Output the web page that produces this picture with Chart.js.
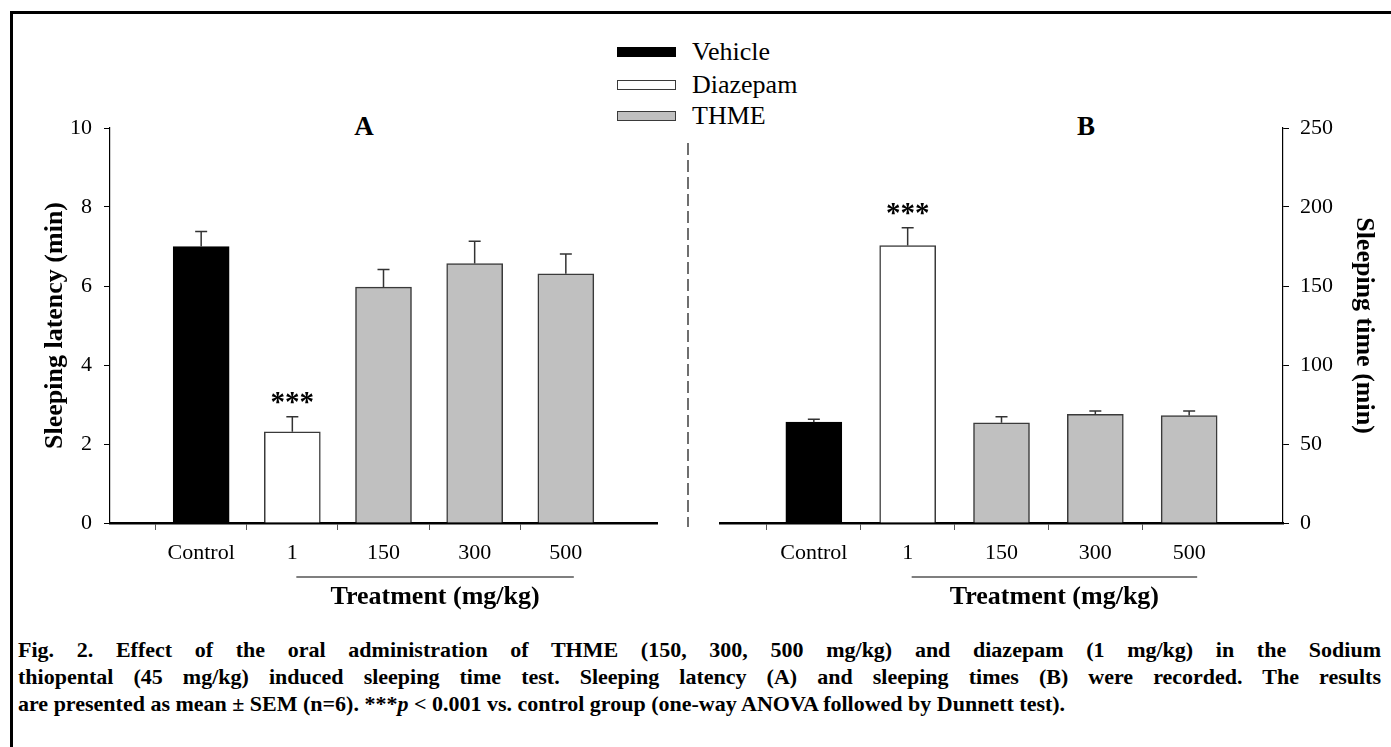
<!DOCTYPE html>
<html>
<head>
<meta charset="utf-8">
<script src="https://cdn.jsdelivr.net/npm/chart.js@4.4.1/dist/chart.umd.min.js"></script>
<style>
  body { margin: 0; background: #fff; }
  #page { position: relative; width: 1391px; height: 747px; overflow: hidden; background: #fff;
          font-family: "Liberation Serif", "Times New Roman", serif; color: #000; }
  #frame { position: absolute; left: 10px; top: 11px; width: 1500px; height: 800px;
           border-left: 3px solid #000; border-top: 3px solid #000; }
  canvas { position: absolute; }
  #chartA { left: 0; top: 90px; }
  #chartB { left: 700px; top: 90px; }
  .legend-row { position: absolute; left: 617px; height: 26px; display: flex; align-items: center; font-size: 26px; }
  .swatch { width: 57px; height: 8px; border: 1.5px solid #3a3a3a; margin-right: 16px; }
  .panel-tag { position: absolute; font-weight: bold; font-size: 27px; transform: translate(-50%, -50%); }
  #caption { position: absolute; left: 18px; width: 1363px; top: 636px; font-weight: bold; font-size: 22px; line-height: 27px; }
  #caption div { white-space: nowrap; }
  #caption .fill { text-align: justify; text-align-last: justify; }
  #divider { position: absolute; left: 686px; top: 143px; }
</style>
</head>
<body>
<div id="page">
  <div id="frame"></div>
  <div id="legend"></div>
  <div class="panel-tag" style="left:364px; top:126px;">A</div>
  <div class="panel-tag" style="left:1086px; top:126px;">B</div>
  <svg id="divider" width="4" height="385"><line x1="2" y1="0" x2="2" y2="384" stroke="#222" stroke-width="1.3" stroke-dasharray="12 5"/></svg>
  <canvas id="chartA" width="680" height="540"></canvas>
  <canvas id="chartB" width="691" height="540"></canvas>
  <div id="caption">
    <div class="fill">Fig. 2. Effect of the oral administration of THME (150, 300, 500 mg/kg) and diazepam (1 mg/kg) in the Sodium</div>
    <div class="fill">thiopental (45 mg/kg) induced sleeping time test. Sleeping latency (A) and sleeping times (B) were recorded. The results</div>
    <div>are presented as mean ± SEM (n=6). ***<i>p</i> &lt; 0.001 vs. control group (one-way ANOVA followed by Dunnett test).</div>
  </div>
</div>
<script>
// groups on the x axis
const categories = ['Control', '1', '150', '300', '500'];
const groupOf = ['Vehicle', 'Diazepam', 'THME', 'THME', 'THME'];
const seriesNames = ['Vehicle', 'Diazepam', 'THME'];
const seriesColors = ['#000000', '#ffffff', '#c0c0c0'];
const seriesBorders = ['#000000', '#3a3a3a', '#3a3a3a'];

// panel A: sleeping latency (min), mean and SEM
const latencyMean = [7.0, 2.31, 5.97, 6.57, 6.31];
const latencySem = [0.38, 0.38, 0.45, 0.56, 0.50];
const latencySig = ['', '***', '', '', ''];
const latencyTicks = [0, 2, 4, 6, 8, 10];

// panel B: sleeping time (min), mean and SEM
const sleepMean = [63.8, 175.6, 63.4, 68.7, 68.0];
const sleepSem = [1.9, 11.3, 3.8, 2.2, 2.9];
const sleepSig = ['', '***', '', '', ''];
const sleepTicks = [0, 50, 100, 150, 200, 250];

const FONT = '"Liberation Serif", "Times New Roman", serif';

// legend built from the series
const legendBox = document.getElementById('legend');
const legendTops = [39, 72, 103];
seriesNames.forEach((name, i) => {
    const row = document.createElement('div');
    row.className = 'legend-row';
    row.style.top = legendTops[i] + 'px';
    row.innerHTML = '<div class="swatch" style="background:' + seriesColors[i] + ';border-color:' + seriesBorders[i] + '"></div>' + name;
    legendBox.appendChild(row);
});

// blank slot on each side so the bars sit on ticks 1..5
const paddedLabels = [''].concat(categories, ['']);

function pad(arr) {
    return [null].concat(arr, [null]);
}

function buildDatasets(means, sems, sigs) {
    return seriesNames.map((name, s) => ({
        label: name,
        data: pad(means.map((v, i) => groupOf[i] === name ? v : null)),
        sem: pad(sems),
        sig: pad(sigs),
        backgroundColor: seriesColors[s],
        borderColor: seriesBorders[s],
        borderWidth: 1.5,
        borderSkipped: 'bottom',
        barThickness: 56,
        grouped: false
    }));
}

const errorBars = {
    id: 'errorBars',
    afterDatasetsDraw(chart) {
        const ctx = chart.ctx;
        const y = chart.scales.y;
        chart.data.datasets.forEach((ds, di) => {
            chart.getDatasetMeta(di).data.forEach((bar, i) => {
                const v = ds.data[i];
                if (v == null) return;
                const top = y.getPixelForValue(v + ds.sem[i]);
                ctx.save();
                ctx.strokeStyle = '#333';
                ctx.lineWidth = 1.5;
                ctx.beginPath();
                ctx.moveTo(bar.x, bar.y);
                ctx.lineTo(bar.x, top);
                ctx.moveTo(bar.x - 6, top);
                ctx.lineTo(bar.x + 6, top);
                ctx.stroke();
                if (ds.sig[i]) {
                    ctx.fillStyle = '#000';
                    ctx.font = 'bold 29px ' + FONT;
                    ctx.textAlign = 'center';
                    ctx.textBaseline = 'alphabetic';
                    ctx.fillText(ds.sig[i], bar.x, top - 6);
                }
                ctx.restore();
            });
        });
    }
};

// underline + "Treatment (mg/kg)" under the dosed groups
const treatmentLabel = {
    id: 'treatmentLabel',
    afterDraw(chart) {
        const ctx = chart.ctx;
        const x = chart.scales.x;
        const x0 = x.getPixelForValue(2) + 4;
        const x1 = x.getPixelForValue(5) + 8;
        const yLine = chart.chartArea.bottom + 54;
        ctx.save();
        ctx.strokeStyle = '#000';
        ctx.lineWidth = 1.2;
        ctx.beginPath();
        ctx.moveTo(x0, yLine);
        ctx.lineTo(x1, yLine);
        ctx.stroke();
        ctx.fillStyle = '#000';
        ctx.font = 'bold 26px ' + FONT;
        ctx.textAlign = 'center';
        ctx.textBaseline = 'middle';
        ctx.fillText('Treatment (mg/kg)', (x0 + x1) / 2, yLine + 20);
        ctx.restore();
    }
};

function makePanel(id, means, sems, sigs, tickVals, yTitle, side) {
    const isLeft = side === 'left';
    return new Chart(document.getElementById(id), {
        type: 'bar',
        data: { labels: paddedLabels, datasets: buildDatasets(means, sems, sigs) },
        options: {
            responsive: false,
            animation: false,
            layout: { padding: isLeft ? { top: 38, right: 23, left: 0, bottom: 40 } : { top: 38, right: 0, left: 20, bottom: 40 } },
            plugins: { legend: { display: false }, tooltip: { enabled: false } },
            scales: {
                x: {
                    offset: false,
                    border: { display: true, color: '#000', width: 2.5 },
                    grid: {
                        drawOnChartArea: false,
                        drawTicks: true,
                        tickLength: 7,
                        lineWidth: 1,
                        color: ctx => (ctx.index === 0 || ctx.index === paddedLabels.length - 1) ? 'rgba(0,0,0,0)' : '#555'
                    },
                    ticks: { color: '#000', font: { family: FONT, size: 22 }, padding: 10, maxRotation: 0, autoSkip: false },
                    afterFit: s => { s.height = 67; }
                },
                y: {
                    position: side,
                    min: tickVals[0],
                    max: tickVals[tickVals.length - 1],
                    afterBuildTicks: s => { s.ticks = tickVals.map(v => ({ value: v })); },
                    border: { display: true, color: '#000', width: 1.2 },
                    grid: { drawOnChartArea: false, drawTicks: true, tickLength: 6, color: '#000' },
                    ticks: { color: '#000', font: { family: FONT, size: 22 }, padding: isLeft ? 12 : 11 },
                    title: {
                        display: true,
                        text: yTitle,
                        color: '#000',
                        font: { family: FONT, size: 26, weight: 'bold' },
                        padding: { top: isLeft ? 40 : 12, bottom: 0 }
                    },
                    afterFit: s => { s.width = isLeft ? 110 : 108; }
                }
            }
        },
        plugins: [errorBars, treatmentLabel]
    });
}

makePanel('chartA', latencyMean, latencySem, latencySig, latencyTicks, 'Sleeping latency (min)', 'left');
makePanel('chartB', sleepMean, sleepSem, sleepSig, sleepTicks, 'Sleeping time (min)', 'right');
</script>
</body>
</html>
